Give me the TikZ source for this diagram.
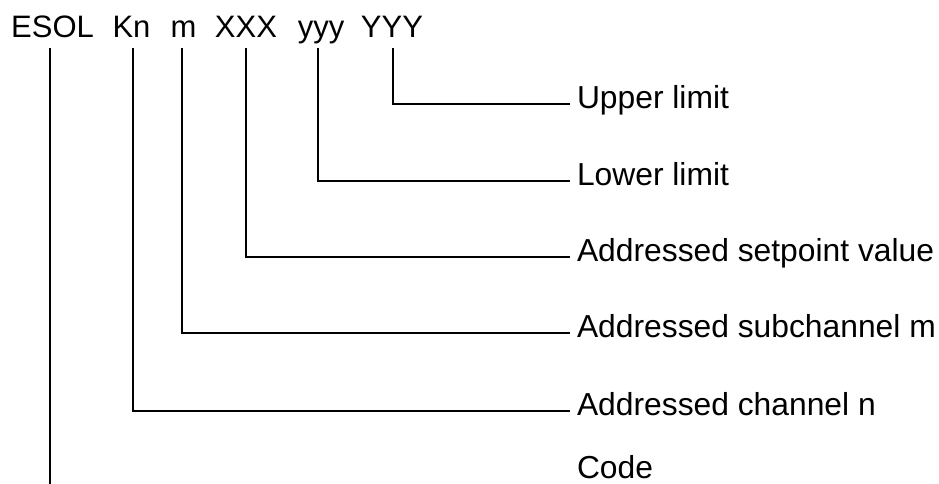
\documentclass[tikz,border=0pt]{standalone}
\usepackage{fontspec}
\setmainfont{Liberation Sans}
\begin{document}
\begin{tikzpicture}[x=1pt,y=-1pt,
  txt/.style={inner sep=0pt,outer sep=0pt,font=\fontsize{31}{36}\selectfont,anchor=base},
  lbl/.style={inner sep=0pt,outer sep=0pt,font=\fontsize{31.8}{36}\selectfont,anchor=base west},
  conn/.style={line width=1.5pt,line cap=rect}]
\useasboundingbox (0,0) rectangle (939,483);
% title tokens
\node[txt] (t1) at (52.5,37) {ESOL};
\node[txt] (t2) at (131.5,37) {Kn};
\node[txt] (t3) at (183.5,37) {m};
\node[txt] (t4) at (246,37) {XXX};
\node[txt] (t5) at (321,37) {yyy};
\node[txt] (t6) at (392,37) {YYY};
% labels
\node[lbl] (l6) at (577,108) {Upper limit};
\node[lbl] (l5) at (577,185) {Lower limit};
\node[lbl] (l4) at (577,261) {Addressed setpoint value};
\node[lbl] (l3) at (577,337) {Addressed subchannel m};
\node[lbl] (l2) at (577,415) {Addressed channel n};
\node[lbl] (l1) at (577,478) {Code};
% free end of the Code line
\coordinate (e1) at (50,483);
% connectors
\draw[conn] ([shift={(-2.5,12)}]t1.base) -- (e1);
\draw[conn] ([shift={(1.5,12)}]t2.base) |- ([shift={(-8,-4)}]l2.base west);
\draw[conn] ([shift={(-1.5,12)}]t3.base) |- ([shift={(-8,-4)}]l3.base west);
\draw[conn] ([shift={(0,12)}]t4.base) |- ([shift={(-8,-4)}]l4.base west);
\draw[conn] ([shift={(-3,12)}]t5.base) |- ([shift={(-8,-4)}]l5.base west);
\draw[conn] ([shift={(1,12)}]t6.base) |- ([shift={(-8,-4)}]l6.base west);
\end{tikzpicture}
\end{document}
